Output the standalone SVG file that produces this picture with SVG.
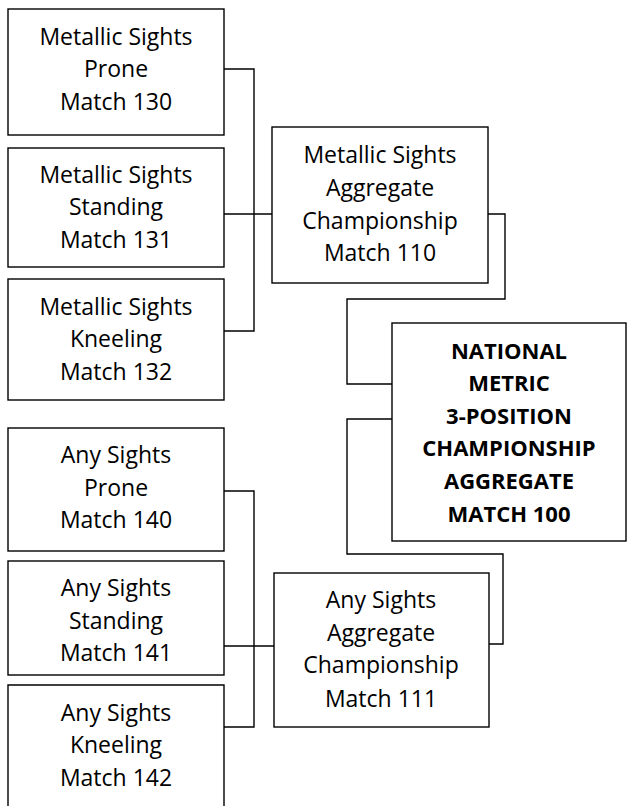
<svg xmlns="http://www.w3.org/2000/svg" width="627" height="806" viewBox="0 0 627 806">
<style>
.box{fill:#fff;stroke:#000;stroke-width:1.4}
.ln{fill:none;stroke:#000;stroke-width:1.4}
text{font-family:"Open Sans","Liberation Sans",sans-serif;font-size:23px;fill:#000;text-anchor:middle}
.b{font-weight:bold;font-size:22px}
</style>
<rect width="627" height="806" fill="#fff"/>
<g id="connectors">
<path class="ln" d="M224,69 H254 V331 H224 M224,214 H272"/>
<path class="ln" d="M224,491 H254 V727 H224 M222,646 H274"/>
<path class="ln" d="M488,214 H505 V299 H347 V384 H392"/>
<path class="ln" d="M392,419 H347 V554 H503 V644 H489"/>
</g>
<g id="m130"><rect class="box" x="8" y="9" width="216" height="126"/>
<text x="116" y="45">Metallic Sights</text><text x="116" y="77">Prone</text><text x="116" y="110">Match 130</text></g>
<g id="m131"><rect class="box" x="8" y="148" width="216" height="119"/>
<text x="116" y="183">Metallic Sights</text><text x="116" y="215">Standing</text><text x="116" y="248">Match 131</text></g>
<g id="m132"><rect class="box" x="8" y="279" width="216" height="121"/>
<text x="116" y="315">Metallic Sights</text><text x="116" y="347">Kneeling</text><text x="116" y="380">Match 132</text></g>
<g id="m110"><rect class="box" x="272" y="127" width="216" height="156"/>
<text x="380" y="163">Metallic Sights</text><text x="380" y="196">Aggregate</text><text x="380" y="229">Championship</text><text x="380" y="261">Match 110</text></g>
<g id="m100"><rect class="box" x="392" y="323" width="234" height="218"/>
<text class="b" x="509" y="359">NATIONAL</text><text class="b" x="509" y="391">METRIC</text><text class="b" x="509" y="424">3-POSITION</text><text class="b" x="509" y="456">CHAMPIONSHIP</text><text class="b" x="509" y="489">AGGREGATE</text><text class="b" x="509" y="522">MATCH 100</text></g>
<g id="a140"><rect class="box" x="8" y="428" width="216" height="123"/>
<text x="116" y="463">Any Sights</text><text x="116" y="496">Prone</text><text x="116" y="528">Match 140</text></g>
<g id="a141"><rect class="box" x="8" y="561" width="216" height="114"/>
<text x="116" y="596">Any Sights</text><text x="116" y="629">Standing</text><text x="116" y="661">Match 141</text></g>
<g id="a142"><path class="box" d="M8,812 V685 H224 V812"/>
<text x="116" y="721">Any Sights</text><text x="116" y="753">Kneeling</text><text x="116" y="786">Match 142</text></g>
<g id="a111"><rect class="box" x="274" y="573" width="215" height="154"/>
<text x="381" y="608">Any Sights</text><text x="381" y="641">Aggregate</text><text x="381" y="673">Championship</text><text x="381" y="707">Match 111</text></g>
</svg>
